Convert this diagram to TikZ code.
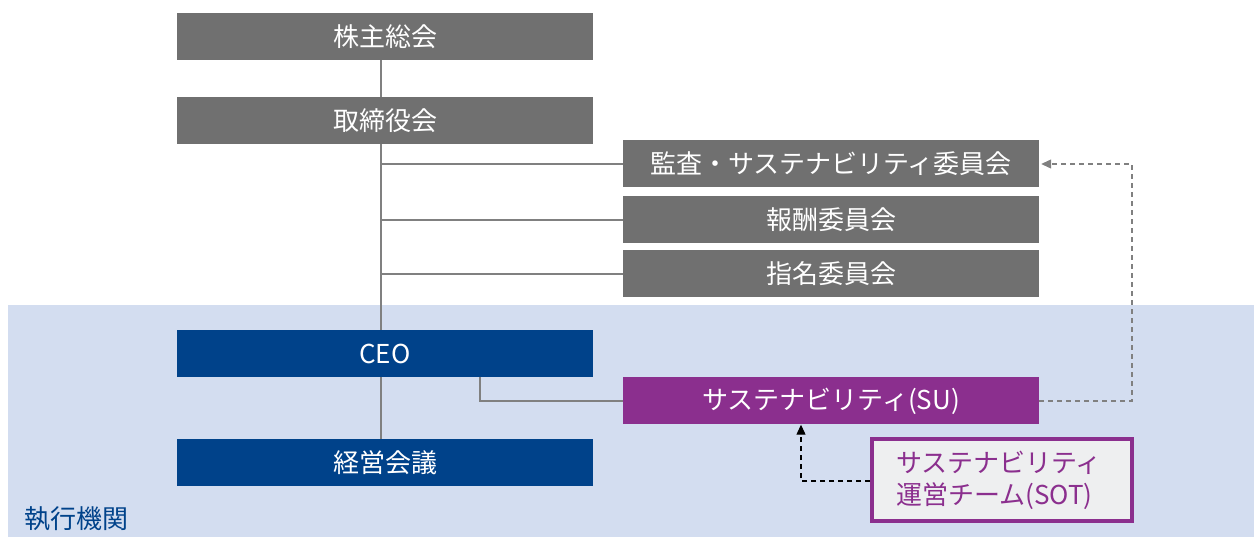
\documentclass[tikz,border=0pt]{standalone}
\usepackage{fontspec}
\setmainfont{Noto Sans CJK JP}
\usetikzlibrary{arrows.meta}
\definecolor{boxgray}{HTML}{707070}
\definecolor{ceoblue}{HTML}{00428A}
\definecolor{bgblue}{HTML}{D3DDF0}
\definecolor{supurple}{HTML}{8B2F8E}
\definecolor{sotfill}{HTML}{EEEFF0}
\definecolor{linegray}{HTML}{808080}
\begin{document}
\begin{tikzpicture}[x=1pt,y=-1pt,
  box/.style={minimum width=416pt,minimum height=47pt,inner sep=0pt,text=white,
    font=\fontsize{26}{30}\selectfont},
  conn/.style={draw=linegray,line width=1.2pt},
  dashgray/.style={draw=linegray,line width=1.2pt,dash pattern=on 5pt off 4pt,-{Triangle[length=10pt,width=9pt]}},
  dashblack/.style={draw=black,line width=1.2pt,dash pattern=on 5pt off 4pt,-{Triangle[length=10pt,width=9pt]}}]
\useasboundingbox (0,0) rectangle (1254,537);
\fill[bgblue] (8,305) rectangle (1254,537);
\node[box,fill=boxgray] (agm) at (385,36.5) {株主総会};
\node[box,fill=boxgray] (board) at (385,120.5) {取締役会};
\node[box,fill=boxgray] (audit) at (831,164) {監査・サステナビリティ委員会};
\node[box,fill=boxgray] (comp) at (831,220) {報酬委員会};
\node[box,fill=boxgray] (nom) at (831,274) {指名委員会};
\node[box,fill=ceoblue] (ceo) at (385,353.5) {CEO};
\node[box,fill=ceoblue] (mgmt) at (385,462.5) {経営会議};
\node[box,fill=supurple] (su) at (831,401) {サステナビリティ(SU)};
\node[draw=supurple,line width=4pt,fill=sotfill,text=supurple,align=left,
  text width=212pt,inner xsep=24pt,minimum height=82pt,
  font=\fontsize{26}{32}\selectfont] (sot) at (1002,480) {サステナビリティ\\運営チーム(SOT)};
\node[anchor=west,text=ceoblue,inner sep=0pt,font=\fontsize{26}{30}\selectfont] (exec) at (24,519) {執行機関};
\coordinate (spine1) at (381,164);
\coordinate (spine2) at (381,220);
\coordinate (spine3) at (381,274);
\draw[conn] (agm.south -| spine1) -- (board.north -| spine1);
\draw[conn] (board.south -| spine1) -- (ceo.north -| spine1);
\draw[conn] (ceo.south -| spine1) -- (mgmt.north -| spine1);
\draw[conn] (spine1) -- (audit.west);
\draw[conn] (spine2) -- (comp.west);
\draw[conn] (spine3) -- (nom.west);
\coordinate (ceoout) at (480,377);
\draw[conn] (ceoout) |- (su.west);
\coordinate (rturn) at (1132,401);
\draw[dashgray] (su.east) -- (rturn) |- ([xshift=2pt]audit.east);
\coordinate (sotturn) at (801,481);
\draw[dashblack] (sot.west |- sotturn) -- (sotturn) -- (sotturn |- su.south);
\end{tikzpicture}
\end{document}
